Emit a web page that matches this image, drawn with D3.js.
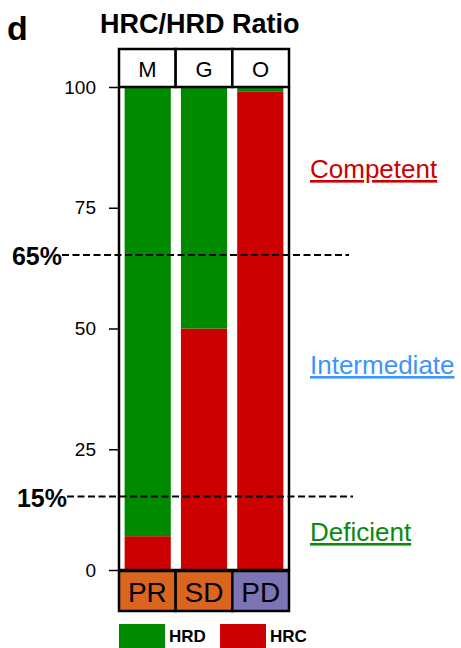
<!DOCTYPE html>
<html lang="en">
<meta charset="UTF-8">
<style>
  body { margin: 0; background: #fff; }
  text { font-family: "Liberation Sans", Arial, Helvetica, sans-serif; }
  .frame { fill: none; stroke: #000; stroke-width: 2.5px; }
  .dash { stroke: #000; stroke-width: 2px; stroke-dasharray: 7 3.5; }
</style>
<body>
<svg width="461" height="648" id="chart"></svg>
<script src="https://d3js.org/d3.v7.min.js"></script>
<script>
// data
const groups = ["M", "G", "O"];
const responses = ["PR", "SD", "PD"];
const hrc = [7, 50, 99];           // percent HRC (red)
const hrd = [93, 50, 1];           // percent HRD (green)
const yTicks = [0, 25, 50, 75, 100];
const cutoffs = [65, 15];
const zones = ["Competent", "Intermediate", "Deficient"];

const red = "#cc0000", green = "#008a00";
const respColor = {PR: "#d9651e", SD: "#d9651e", PD: "#7b74b5"};
const zoneColor = ["#cc0000", "#3d94ff", "#0a8a0a"];
const zoneBase = [178, 374, 541];   // baselines of the zone labels

const svg = d3.select("#chart");
const pLeft = 119, pRight = 289, pTop = 87, pBottom = 570;

const x = d3.scaleBand().domain(groups).range([pLeft, pRight]).paddingInner(0.18).paddingOuter(0.1);
const xBox = d3.scaleBand().domain(groups).range([pLeft, pRight]);
const y = d3.scaleLinear().domain([0, 100]).range([pBottom, pTop]);

// stacked bars
const rows = groups.map((g, i) => ({g, hrc: hrc[i], hrd: hrd[i]}));
const stack = d3.stack().keys(["hrc", "hrd"])(rows);
svg.append("g").selectAll("g").data(stack).enter().append("g")
    .attr("fill", d => d.key == "hrc" ? red : green)
  .selectAll("rect").data(d => d).enter().append("rect")
    .attr("x", d => x(d.data.g))
    .attr("width", x.bandwidth())
    .attr("y", d => y(d[1]))
    .attr("height", d => y(d[0]) - y(d[1]));

// frame around plot
svg.append("path").attr("class", "frame")
    .attr("d", `M${pLeft},${pTop} V${pBottom} H${pRight} V${pTop}`);

// y axis ticks
const yAxis = svg.append("g").attr("transform", `translate(${pLeft - 1},0)`)
    .call(d3.axisLeft(y).tickValues(yTicks).tickSize(9).tickPadding(13));
yAxis.select(".domain").remove();
yAxis.selectAll("line").attr("stroke-width", 1.5);
yAxis.selectAll("text").attr("font-size", "19px").attr("fill", "#000")
    .attr("font-family", "Liberation Sans, Arial, sans-serif");

// header boxes
const head = svg.append("g");
head.selectAll("rect").data(groups).enter().append("rect")
    .attr("x", d => xBox(d)).attr("y", 49)
    .attr("width", xBox.bandwidth()).attr("height", pTop - 49)
    .attr("fill", "#fff").attr("stroke", "#000").attr("stroke-width", 2.5);
head.selectAll("text").data(groups).enter().append("text")
    .attr("x", d => xBox(d) + xBox.bandwidth() / 2).attr("y", 77)
    .attr("text-anchor", "middle").attr("font-size", "22px").text(d => d);

// response boxes
const foot = svg.append("g");
foot.selectAll("rect").data(responses).enter().append("rect")
    .attr("x", (d, i) => xBox(groups[i])).attr("y", pBottom + 1)
    .attr("width", xBox.bandwidth()).attr("height", 40)
    .attr("fill", d => respColor[d]).attr("stroke", "#000").attr("stroke-width", 2.5);
foot.selectAll("text").data(responses).enter().append("text")
    .attr("x", (d, i) => xBox(groups[i]) + xBox.bandwidth() / 2).attr("y", pBottom + 32)
    .attr("text-anchor", "middle").attr("font-size", "28px").text(d => d);

// cutoff lines
cutoffs.forEach((c, i) => {
    const x0 = i == 0 ? 62 : 67, x1 = i == 0 ? 349 : 353;
    svg.append("line").attr("class", "dash")
        .attr("x1", x0).attr("x2", x1).attr("y1", y(c) - 1).attr("y2", y(c) - 1);
    svg.append("text").attr("x", x0).attr("y", y(c) + 9)
        .attr("text-anchor", "end").attr("font-size", "25px").attr("font-weight", "bold")
        .text(c + "%");
});

// zone labels
svg.selectAll(".zone").data(zones).enter().append("text")
    .attr("class", "zone")
    .attr("x", 310).attr("y", (d, i) => zoneBase[i])
    .attr("font-size", "26px").attr("fill", (d, i) => zoneColor[i])
    .attr("text-decoration", "underline").text(d => d);

// titles
svg.append("text").attr("x", 100).attr("y", 33)
    .attr("font-size", "27px").attr("font-weight", "bold").text("HRC/HRD Ratio");
svg.append("text").attr("x", 7).attr("y", 40)
    .attr("font-size", "34px").attr("font-weight", "bold").text("d");

// legend
const legend = [["HRD", green, 119], ["HRC", red, 220]];
legend.forEach(l => {
    svg.append("rect").attr("x", l[2]).attr("y", 624).attr("width", 46).attr("height", 24).attr("fill", l[1]);
    svg.append("text").attr("x", l[2] + 50).attr("y", 642)
        .attr("font-size", "17px").attr("font-weight", "bold").text(l[0]);
});
</script>
</body>
</html>
